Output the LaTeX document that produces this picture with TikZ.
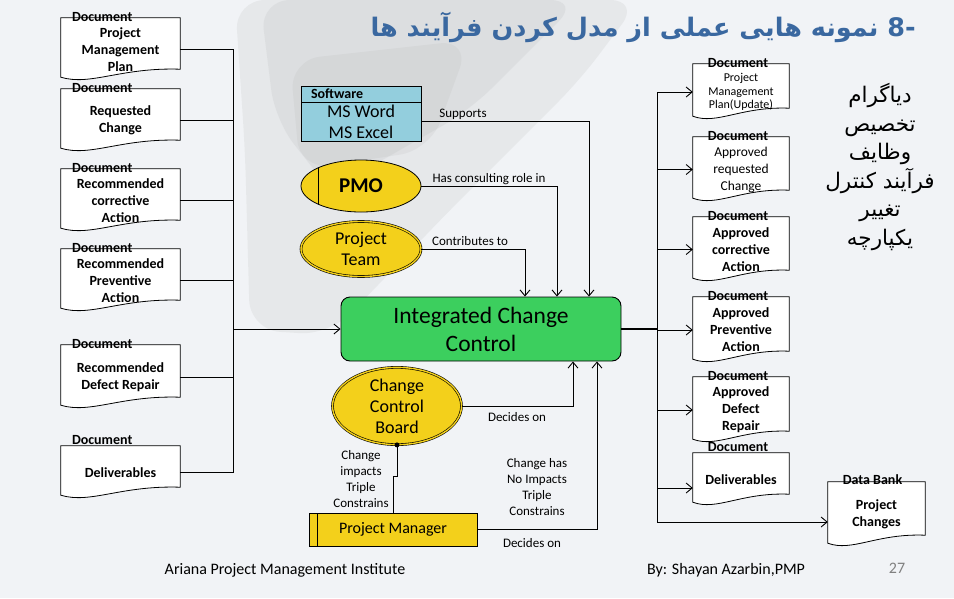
\documentclass[tikz,border=0pt]{standalone}
\usepackage{fontspec}
\setmainfont{Carlito}
\newfontfamily\arabicfont[Script=Arabic]{DejaVu Sans}
\TeXXeTstate=1
\usetikzlibrary{arrows.meta,calc,shapes.geometric}
\pgfdeclarelayer{back}
\pgfsetlayers{back,main}
\definecolor{ttlblue}{HTML}{3A68A0}
\definecolor{yel}{HTML}{F3D01B}
\definecolor{grn}{HTML}{3CCF5E}
\definecolor{swblue}{HTML}{93CEDD}
\definecolor{bgc}{HTML}{F1F3F6}
\newcommand\fsz[2]{\fontsize{#1}{#2}\selectfont}
\tikzset{
  docn/.style={rectangle, inner sep=0pt, align=center, font=\fsz{14}{17}\bfseries},
  docline/.style={draw=black, fill=white, line width=0.8pt},
  doclab/.style={font=\fsz{14}{14}\bfseries, inner sep=0pt},
  conn/.style={draw=black, line width=0.9pt},
  arr/.style={conn, -{Straight Barb[length=6pt,width=10pt]}},
  lbl/.style={font=\fsz{13}{16}, align=center, inner sep=0pt},
  yell/.style={ellipse, fill=yel, inner sep=0pt, align=center, font=\fsz{18}{21}},
  dbl/.style={draw=black, line width=0.6pt, double=yel, double distance=1.4pt},
  shade/.style={fill=black!35, rounded corners=30pt},
}
\newcommand\docframe[1]{%
  \begin{pgfonlayer}{back}
  \path[docline] (#1.north west) -- (#1.north east) -- ($(#1.south east)+(0,-12)$)
    .. controls ($(#1.south west)!0.5!(#1.south east)+(0,-14)$) and ($(#1.south west)!0.25!(#1.south east)+(0,5)$) .. ($(#1.south west)+(0,-4)$) -- cycle;
  \end{pgfonlayer}}
\begin{document}
\begin{tikzpicture}[x=1pt,y=-1pt]
\begin{pgfonlayer}{back}
\path[fill=bgc] (0,0) rectangle (954,598);
\path[shade, opacity=0.14] (235,0) -- (640,0) -- (580,80) -- (450,210) -- (330,335) -- (250,330) -- (245,150) -- cycle;
\path[shade, opacity=0.14] (260,0) -- (580,0) -- (470,110) -- (330,190) -- (275,120) -- cycle;
\path[shade, opacity=0.12] (290,60) -- (470,40) -- (430,150) -- (300,170) -- cycle;
\end{pgfonlayer}
\useasboundingbox (0,0) rectangle (954,598);

% title
\node[anchor=east, inner sep=0pt, font=\arabicfont\bfseries\fsz{25.5}{27}, text=ttlblue] (title) at (916,27) {\beginR نمونه هایی عملی از مدل کردن فرآیند ها\endR{} -8};

% side text
\node[align=center, inner sep=0pt, font=\arabicfont\fsz{21.5}{28.6}] (side) at (880,167) {\beginR دیاگرام\endR\\ \beginR تخصیص\endR\\ \beginR وظایف\endR\\ \beginR فرآیند کنترل\endR\\ \beginR تغییر\endR\\ \beginR یکپارچه\endR};

% left documents
\node[docn, minimum width=119pt, minimum height=63pt] (L1) at (120.5,49.5) {Project\\Management\\Plan};
\node[docn, minimum width=119pt, minimum height=63pt] (L2) at (120.5,120.5) {Requested\\Change};
\node[docn, minimum width=119pt, minimum height=63pt] (L3) at (120.5,200.5) {Recommended\\corrective\\Action};
\node[docn, minimum width=119pt, minimum height=63pt] (L4) at (120.5,280.5) {Recommended\\Preventive\\Action};
\node[docn, minimum width=119pt, minimum height=64pt] (L5) at (120.5,377) {Recommended\\Defect Repair};
\node[docn, minimum width=119pt, minimum height=53pt] (L6) at (120.5,472.5) {Deliverables};
\foreach \n in {L1,L2,L3,L4,L5,L6} {\docframe{\n}}
\foreach \n in {L1,L2,L3,L4,L5} {\node[doclab, anchor=west] at ([xshift=11pt,yshift=1pt]\n.north west) {Document};}
\node[doclab, anchor=west] at ([xshift=11pt,yshift=6pt]L6.north west) {Document};

% right documents
\node[docn, minimum width=96pt, minimum height=56pt, font=\fsz{12}{13.5}] (R1) at (741,92) {Project\\Management\\Plan(Update)};
\node[docn, minimum width=96pt, minimum height=65pt, font=\fsz{13.5}{17}] (R2) at (741,169.5) {Approved\\requested\\Change};
\node[docn, minimum width=96pt, minimum height=65pt] (R3) at (741,249.5) {Approved\\corrective\\Action};
\node[docn, minimum width=96pt, minimum height=66pt] (R4) at (741,330) {Approved\\Preventive\\Action};
\node[docn, minimum width=96pt, minimum height=66pt] (R5) at (741,410) {Approved\\Defect\\Repair};
\node[docn, minimum width=96pt, minimum height=53pt] (R6) at (741,479.5) {Deliverables};
\node[docn, minimum width=97pt, minimum height=65pt] (DB) at (876.5,514.5) {Project\\Changes};
\foreach \n in {R1,R2,R3,R4,R5,R6,DB} {\docframe{\n}}
\foreach \n in {R1,R2,R3,R4,R5} {\node[doclab] at ([xshift=-3pt,yshift=1pt]\n.north) {Document};}
\node[doclab] at ([xshift=-3pt,yshift=6pt]R6.north) {Document};
\node[doclab] at ([xshift=-4pt,yshift=2pt]DB.north) {Data Bank};

% central elements
\node[draw=black, line width=0.8pt, fill=swblue, minimum width=120pt, minimum height=16pt, text width=100pt, inner xsep=10pt, inner ysep=0pt, align=left, font=\fsz{14}{14}\bfseries] (swh) at (361,94) {Software};
\node[draw=black, line width=0.8pt, fill=swblue, minimum width=120pt, minimum height=39pt, inner sep=0pt, align=center, font=\fsz{18}{21}] (swb) at (361,121.5) {MS Word\\MS Excel};

\node[yell, draw=black, line width=0.8pt, minimum width=120pt, minimum height=52pt, font=\fsz{21}{24}\bfseries,
  path picture={\draw[line width=0.8pt] ([xshift=17pt]path picture bounding box.north west) -- ([xshift=17pt]path picture bounding box.south west);}] (pmo) at (361,186) {PMO};
\node[yell, dbl, minimum width=120pt, minimum height=55pt] (team) at (361,249) {Project\\Team};

\node[draw=black, line width=0.9pt, fill=grn, rounded corners=9pt, minimum width=280pt, minimum height=64pt, inner sep=0pt, align=center, font=\fsz{23.5}{28}] (icc) at (481,329) {Integrated Change\\Control};

\node[yell, dbl, minimum width=129pt, minimum height=74pt] (ccb) at (397,406) {Change\\Control\\Board};
\node[draw=black, line width=0.8pt, fill=yel, minimum width=168pt, minimum height=33pt, inner sep=0pt, font=\fsz{16}{18},
  path picture={\draw[line width=0.8pt] ([xshift=8pt]path picture bounding box.north west) -- ([xshift=8pt]path picture bounding box.south west);}] (pm) at (393,529.5) {Project Manager};

% left bus
\coordinate (lbus) at (233,329);
\foreach \n in {L1,L2,L3,L4,L5,L6} {\draw[conn] (\n.east) -| (lbus);}
\draw[arr] (lbus) -- (icc.west);

% right bus
\coordinate (rbus) at (657,329);
\draw[conn, line width=1.8pt] (icc.east) -- (rbus);
\foreach \n in {R1,R2,R3,R4,R5} {\draw[arr] (rbus) |- (\n.west);}
\draw[arr] (rbus) |- ([yshift=-8.5pt]R6.west);
\draw[arr] (rbus) |- ([yshift=-7.5pt]DB.west);

% top connectors
\draw[arr] (swb.east) -| ([xshift=108pt]icc.north);
\draw[arr] (pmo.east) -| ([xshift=76pt]icc.north);
\draw[arr] (team.east) -| ([xshift=44pt]icc.north);
\node[lbl] (l1) at (463,114) {Supports};
\node[lbl] (l2) at (489,179) {Has consulting role in};
\node[lbl] (l3) at (470,241) {Contributes to};

% bottom connectors
\draw[arr] (ccb.east) -| ([xshift=92pt]icc.south);
\draw[arr] (pm.east) -| ([xshift=116pt]icc.south);
\coordinate (jog) at (397,476);
\fill (ccb.south) circle (2.5pt);
\draw[conn] (ccb.south) -- (jog) -| (pm.north);
\node[lbl] (l4) at (517,417) {Decides on};
\node[lbl] (l5) at (361,479) {Change\\impacts\\Triple\\Constrains};
\node[lbl] (l6) at (537,487) {Change has\\No Impacts\\Triple\\Constrains};
\node[lbl] (l7) at (532,543) {Decides on};

% footer
\node[inner sep=0pt, font=\fsz{16}{18}] (f1) at (285,570) {Ariana Project Management Institute};
\node[inner sep=0pt, font=\fsz{16}{18}] (f2) at (726,570) {By: Shayan Azarbin,PMP};
\node[inner sep=0pt, font=\fsz{16}{18}, text=black!50] (f3) at (897,568) {27};
\end{tikzpicture}
\end{document}
